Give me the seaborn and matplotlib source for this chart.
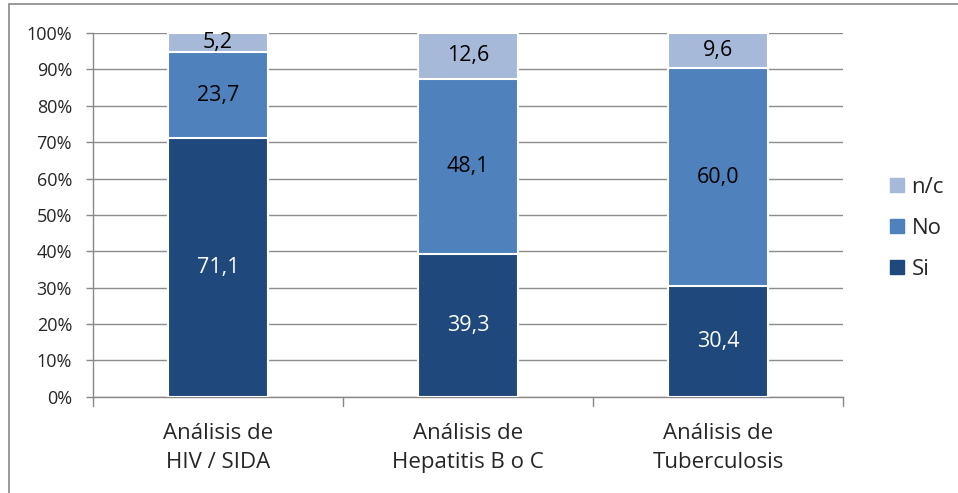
import matplotlib
matplotlib.use("Agg")
import matplotlib.pyplot as plt
import seaborn as sns
import pandas as pd
import numpy as np
from matplotlib.lines import Line2D
from matplotlib.patches import Rectangle

categories = ["Análisis de\nHIV / SIDA", "Análisis de\nHepatitis B o C", "Análisis de\nTuberculosis"]
si = [71.1, 39.3, 30.4]
no = [23.7, 48.1, 60.0]
nc = [5.2, 12.6, 9.6]

series = ["Si", "No", "n/c"]
colors = {"Si": "#1F497D", "No": "#4F81BD", "n/c": "#A7B9D8"}
label_colors = {"Si": "white", "No": "black", "n/c": "black"}

sns.set_style("white")
plt.rcParams["font.family"] = ["Open Sans", "DejaVu Sans"]

df = pd.DataFrame({"cat": categories, "Si": si, "No": no, "n/c": nc})
bottoms = df[series].cumsum(axis=1)

fig = plt.figure(figsize=(9.58, 4.93), dpi=100)
ax = fig.add_axes([0.097, 0.195, 0.783, 0.738])

# draw stacked bars from the top down so lower segments cover upper ones
for s in reversed(series):
    sns.barplot(x=df["cat"], y=bottoms[s], color=colors[s], width=0.4,
                saturation=1, edgecolor="white", linewidth=1.5, ax=ax, zorder=3)

for i in range(len(categories)):
    base = 0
    for s in series:
        val = df[s][i]
        ax.text(i, base + val / 2, f"{val:.1f}".replace(".", ","),
                ha="center", va="center", fontsize=15.5,
                color=label_colors[s], zorder=5)
        base += val

ax.set_ylim(0, 100)
ax.set_xlim(-0.5, 2.5)
ax.set_yticks(np.arange(0, 101, 10))
ax.set_yticklabels([f"{v}%" for v in range(0, 101, 10)], fontsize=13)
ax.set_xticks(range(len(categories)))
ax.set_xticklabels(categories, fontsize=16, linespacing=1.5)
ax.set_xlabel("")
ax.set_ylabel("")
ax.tick_params(axis="x", length=0, pad=19)
ax.tick_params(axis="y", length=5, color="#888888", width=1, left=True, pad=10)
ax.yaxis.grid(True, color="#8c8c8c", linewidth=1)
ax.set_axisbelow(True)

for side in ["top", "right"]:
    ax.spines[side].set_visible(False)
for side in ["left", "bottom"]:
    ax.spines[side].set_color("#888888")
    ax.spines[side].set_linewidth(1)

# category boundary ticks on x axis
for xb in [-0.5, 0.5, 1.5, 2.5]:
    ax.plot([xb, xb], [0, -2.5], color="#888888", linewidth=1,
            clip_on=False, zorder=4)

handles = [Line2D([0], [0], marker="s", linestyle="", markersize=10,
                  markerfacecolor=colors[s], markeredgecolor=colors[s])
           for s in ["n/c", "No", "Si"]]
fig.legend(handles, ["n/c", "No", "Si"], loc="center left",
           bbox_to_anchor=(0.905, 0.537), frameon=False, fontsize=16,
           handletextpad=0.2, labelspacing=0.9, handlelength=0.9)

# chart frame, cut off at the right and bottom like the source image
fig.patches.append(Rectangle((0.009, -0.1), 1.2, 1.092, transform=fig.transFigure,
                             fill=False, edgecolor="#888888", linewidth=1.2))

fig.savefig("out.png", dpi=100)
